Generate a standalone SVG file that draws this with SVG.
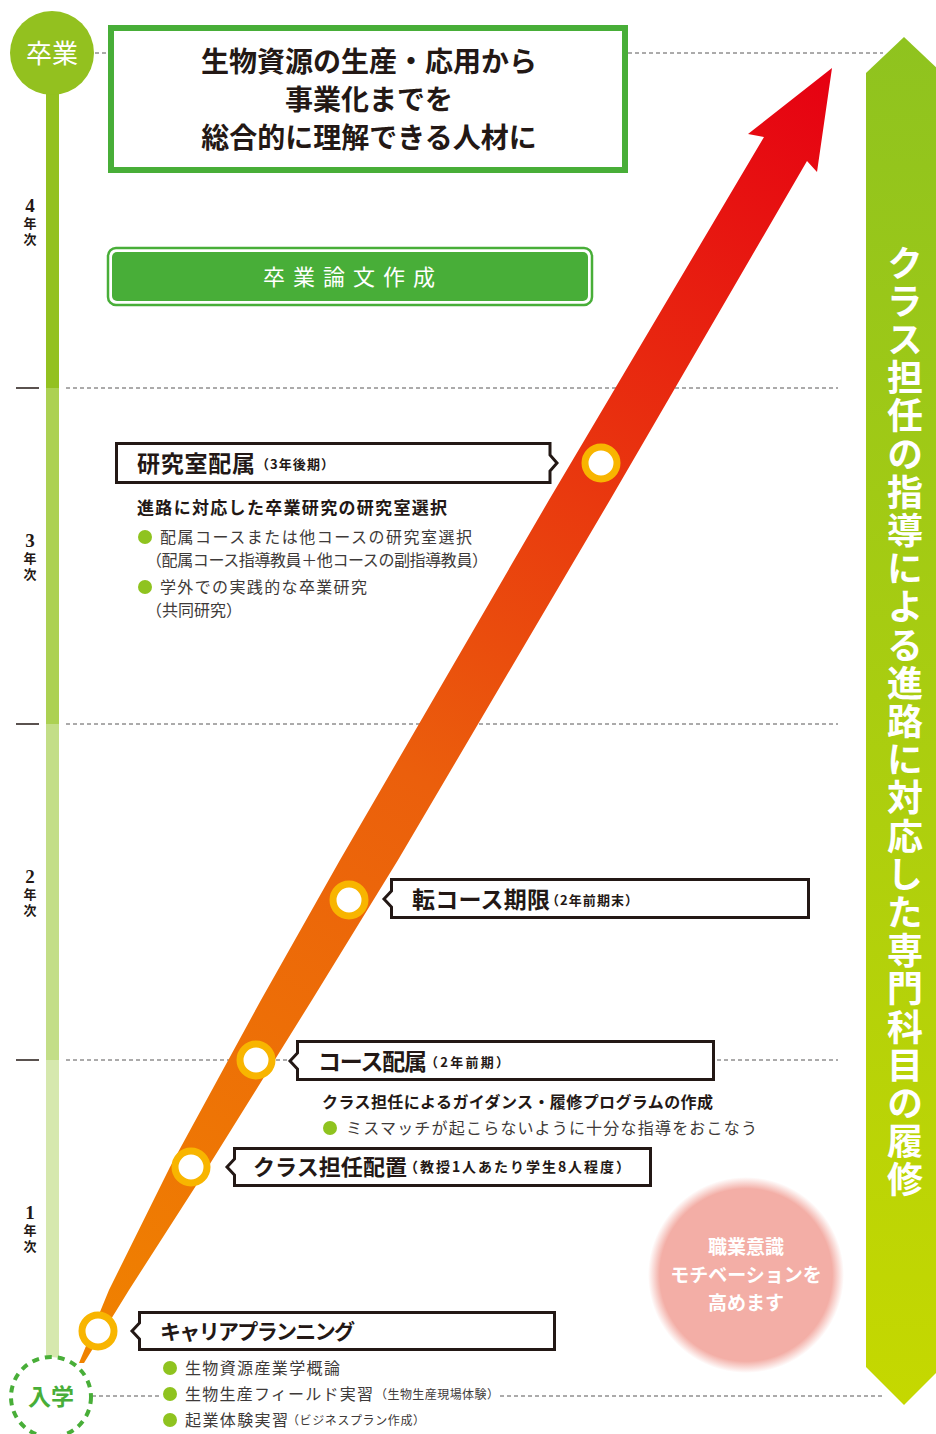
<svg xmlns="http://www.w3.org/2000/svg" width="936" height="1434" viewBox="0 0 936 1434">
<style>
.jp{font-family:"Noto Sans CJK JP","Noto Sans",sans-serif;}
.b{font-weight:700;}
.dk{fill:#231815;}
.gr{fill:#3e3a39;}
.wh{fill:#ffffff;}
.box{fill:#ffffff;stroke:#231815;stroke-width:3;}
.dash{stroke:#595757;stroke-width:1;stroke-dasharray:4 3;fill:none;}
.tick{stroke:#231815;stroke-width:1.5;}
.ring{fill:#ffffff;stroke:#f8b500;stroke-width:7;}
.dot{fill:#8fc31f;}
.yr{font-family:"Liberation Serif",serif;font-weight:700;fill:#231815;}
.yv{font-family:"Noto Sans CJK JP","Noto Sans",sans-serif;font-weight:700;fill:#231815;font-size:13px;letter-spacing:3px;writing-mode:vertical-rl;}
</style>
<defs>
<linearGradient id="arrowGrad" gradientUnits="userSpaceOnUse" x1="80" y1="1360" x2="830" y2="70">
<stop offset="0" stop-color="#f08300"/>
<stop offset="0.45" stop-color="#eb5f0c"/>
<stop offset="1" stop-color="#e60012"/>
</linearGradient>
<linearGradient id="greenGrad" x1="0" y1="0" x2="0" y2="1">
<stop offset="0" stop-color="#8fc31f"/>
<stop offset="1" stop-color="#c5d800"/>
</linearGradient>
<radialGradient id="pinkGrad" cx="0.5" cy="0.5" r="0.5">
<stop offset="0" stop-color="#f3aea6"/>
<stop offset="0.88" stop-color="#f3aea6"/>
<stop offset="1" stop-color="#f3aea6" stop-opacity="0"/>
</radialGradient>
</defs>

<g id="timeline">
<rect x="46" y="90" width="13" height="298" fill="#93c11f"/>
<rect x="46" y="388" width="13" height="336" fill="#acd152"/>
<rect x="46" y="724" width="13" height="336" fill="#c3de87"/>
<rect x="46" y="1060" width="13" height="298" fill="#d6e8ae"/>
<line class="tick" x1="16" y1="388" x2="39" y2="388"/>
<line class="tick" x1="16" y1="724" x2="39" y2="724"/>
<line class="tick" x1="16" y1="1060" x2="39" y2="1060"/>
<g class="yr" text-anchor="middle">
<text x="30" y="212" font-size="19">4</text>
<text x="30" y="547" font-size="19">3</text>
<text x="30" y="883" font-size="19">2</text>
<text x="30" y="1219" font-size="19">1</text>
</g>
<text class="yv" x="30" y="217">年次</text>
<text class="yv" x="30" y="552">年次</text>
<text class="yv" x="30" y="888">年次</text>
<text class="yv" x="30" y="1224">年次</text>
</g>

<g id="connectors">
<line class="dash" x1="95" y1="53" x2="110" y2="53"/>
<line class="dash" x1="628" y1="53" x2="883" y2="53"/>
<line class="dash" x1="66" y1="388" x2="838" y2="388"/>
<line class="dash" x1="66" y1="724" x2="838" y2="724"/>
<line class="dash" x1="66" y1="1060" x2="838" y2="1060"/>
<line class="dash" x1="92" y1="1396" x2="160" y2="1396"/>
<line class="dash" x1="500" y1="1396" x2="882" y2="1396"/>
<polygon id="mainArrow" fill="url(#arrowGrad)" points="832,68 817,172 807,161 610,500 398,860 312,1000 208,1167 129,1290 84,1363 79,1363 109,1290 170,1167 261,1000 340,860 549,500 764,137 748,134"/>
</g>

<g id="node-graduation">
<circle cx="52" cy="53" r="42" fill="#93c11f"/>
<text class="jp wh" x="52" y="63" font-size="26" text-anchor="middle">卒業</text>
</g>

<g id="node-entrance">
<circle cx="51" cy="1397" r="40" fill="#ffffff" stroke="#48ae38" stroke-width="4" stroke-dasharray="7 6"/>
<text class="jp b" x="51" y="1405" font-size="23" fill="#48ae38" text-anchor="middle">入学</text>
</g>

<g id="node-goal">
<rect x="111" y="28" width="514" height="142" fill="#ffffff" stroke="#48ae38" stroke-width="6"/>
<text class="jp b dk" x="369" y="72" font-size="28" text-anchor="middle">生物資源の生産・応用から</text>
<text class="jp b dk" x="369" y="110" font-size="28" text-anchor="middle">事業化までを</text>
<text class="jp b dk" x="369" y="148" font-size="28" text-anchor="middle">総合的に理解できる人材に</text>
</g>

<g id="node-thesis">
<rect x="108" y="248" width="484" height="57" rx="8" fill="#ffffff" stroke="#48ae38" stroke-width="2.5"/>
<rect x="112" y="252" width="476" height="49" rx="5" fill="#48ae38"/>
<text class="jp wh" x="263" y="285" font-size="22" textLength="172" lengthAdjust="spacing">卒業論文作成</text>
</g>

<g id="node-lab">
<path class="box" d="M116.5,443.5 H550 V455 L557,463 L550,471 V482.5 H116.5 Z"/>
<text class="jp b dk" x="137" y="472" font-size="23" textLength="118" lengthAdjust="spacing">研究室配属</text>
<text class="jp b dk" x="256" y="469" font-size="13" textLength="78" lengthAdjust="spacing">（3年後期）</text>
<text class="jp b dk" x="137" y="514" font-size="17" textLength="310" lengthAdjust="spacing">進路に対応した卒業研究の研究室選択</text>
<circle class="dot" cx="145" cy="537" r="7"/>
<text class="jp gr" x="160" y="543" font-size="16" textLength="312" lengthAdjust="spacing">配属コースまたは他コースの研究室選択</text>
<text class="jp gr" x="146" y="566" font-size="16" textLength="342" lengthAdjust="spacing">（配属コース指導教員＋他コースの副指導教員）</text>
<circle class="dot" cx="145" cy="587" r="7"/>
<text class="jp gr" x="160" y="593" font-size="16" textLength="207" lengthAdjust="spacing">学外での実践的な卒業研究</text>
<text class="jp gr" x="146" y="616" font-size="16" textLength="96" lengthAdjust="spacing">（共同研究）</text>
</g>

<g id="node-change">
<path class="box" d="M391.5,879.5 H808.5 V917.5 H391.5 V907 L384,899 L391.5,891 Z"/>
<text class="jp b dk" x="412" y="908" font-size="23" textLength="138" lengthAdjust="spacing">転コース期限</text>
<text class="jp b dk" x="546" y="905" font-size="13" textLength="92" lengthAdjust="spacing">（2年前期末）</text>
</g>

<g id="node-course">
<path class="box" d="M297.5,1041.5 H713.5 V1079.5 H297.5 V1069 L290,1061 L297.5,1053 Z"/>
<text class="jp b dk" x="318" y="1070" font-size="23" textLength="109" lengthAdjust="spacing">コース配属</text>
<text class="jp b dk" x="425" y="1067" font-size="13" textLength="84" lengthAdjust="spacing">（2年前期）</text>
<text class="jp b dk" x="322" y="1108" font-size="16" textLength="391" lengthAdjust="spacing">クラス担任によるガイダンス・履修プログラムの作成</text>
<circle class="dot" cx="330" cy="1128" r="7"/>
<text class="jp gr" x="346" y="1134" font-size="16" textLength="411" lengthAdjust="spacing">ミスマッチが起こらないように十分な指導をおこなう</text>
</g>

<g id="node-advisor">
<path class="box" d="M234.5,1148.5 H650.5 V1185.5 H234.5 V1175 L227,1167 L234.5,1159 Z"/>
<text class="jp b dk" x="253" y="1175" font-size="22" textLength="154" lengthAdjust="spacing">クラス担任配置</text>
<text class="jp b dk" x="404" y="1172" font-size="14" textLength="226" lengthAdjust="spacing">（教授1人あたり学生8人程度）</text>
</g>

<g id="node-career">
<path class="box" d="M139.5,1312.5 H554.5 V1349.5 H139.5 V1339 L132,1331 L139.5,1323 Z"/>
<text class="jp b dk" x="160" y="1339" font-size="21" textLength="195" lengthAdjust="spacing">キャリアプランニング</text>
<circle class="dot" cx="170" cy="1368" r="7"/>
<text class="jp gr" x="185" y="1374" font-size="16" textLength="155" lengthAdjust="spacing">生物資源産業学概論</text>
<circle class="dot" cx="170" cy="1394" r="7"/>
<text class="jp gr" x="185" y="1400" font-size="16" textLength="188" lengthAdjust="spacing">生物生産フィールド実習</text>
<text class="jp gr" x="375" y="1399" font-size="12" textLength="124" lengthAdjust="spacing">（生物生産現場体験）</text>
<circle class="dot" cx="170" cy="1420" r="7"/>
<text class="jp gr" x="185" y="1426" font-size="16" textLength="103" lengthAdjust="spacing">起業体験実習</text>
<text class="jp gr" x="287" y="1425" font-size="12" textLength="138" lengthAdjust="spacing">（ビジネスプラン作成）</text>
</g>

<g id="milestones">
<circle class="ring" cx="601" cy="463" r="16"/>
<circle class="ring" cx="349" cy="900" r="16"/>
<circle class="ring" cx="256" cy="1060" r="16"/>
<circle class="ring" cx="191" cy="1167" r="16"/>
<circle class="ring" cx="98" cy="1331" r="16"/>
</g>

<g id="node-motivation">
<circle cx="746" cy="1275" r="98" fill="url(#pinkGrad)"/>
<text class="jp b wh" x="746" y="1254" font-size="19" text-anchor="middle">職業意識</text>
<text class="jp b wh" x="746" y="1282" font-size="19" text-anchor="middle">モチベーションを</text>
<text class="jp b wh" x="746" y="1310" font-size="19" text-anchor="middle">高めます</text>
</g>

<g id="node-guidance">
<polygon fill="url(#greenGrad)" points="904,37 942,73 942,1367 904,1405 866,1367 866,73"/>
<text class="jp b wh" x="905" y="245" font-size="36" letter-spacing="2.2" style="writing-mode:vertical-rl">クラス担任の指導による進路に対応した専門科目の履修</text>
</g>
</svg>
